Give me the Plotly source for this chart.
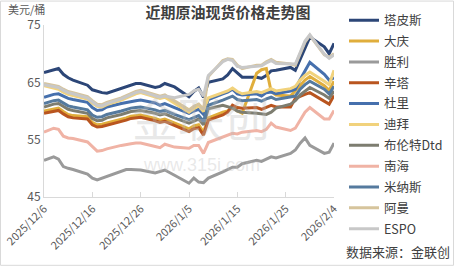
import plotly.graph_objects as go

dates = ["2025-12-06", "2025-12-08", "2025-12-09", "2025-12-10", "2025-12-11", "2025-12-12",
         "2025-12-15", "2025-12-16", "2025-12-17", "2025-12-18", "2025-12-19",
         "2025-12-22", "2025-12-23", "2025-12-24", "2025-12-25", "2025-12-26",
         "2025-12-29", "2025-12-30", "2025-12-31", "2026-01-02",
         "2026-01-05", "2026-01-06", "2026-01-07", "2026-01-08", "2026-01-09",
         "2026-01-12", "2026-01-13", "2026-01-14", "2026-01-15", "2026-01-16",
         "2026-01-19", "2026-01-20", "2026-01-21", "2026-01-22", "2026-01-23",
         "2026-01-26", "2026-01-27", "2026-01-28", "2026-01-29", "2026-01-30",
         "2026-02-02", "2026-02-03", "2026-02-04"]

tapis = [66.7, 67.2, 67.4, 66.4, 65.8, 65.4, 64.5, 63.7, 63.4, 63.2, 63.1, 64.0, 64.3, 64.6, 64.8, 64.8,
         64.1, 64.3, 64.8, 64.2, 62.5, 63.4, 64.0, 62.4, 65.0, 65.6, 66.3, 67.4, 66.6, 65.9,
         65.9, 65.7, 66.2, 67.0, 67.1, 67.6, 67.1, 69.0, 71.0, 72.9, 71.2, 70.0, 71.8]
daqing = [60.0, 60.4, 60.5, 59.9, 59.4, 59.2, 59.0, 58.0, 57.6, 57.7, 57.9, 58.5, 58.8, 59.1, 59.2, 59.3,
          58.7, 58.4, 58.6, 57.9, 56.9, 57.4, 57.6, 56.3, 58.8, 59.8, 60.0, 60.6, 60.0, 59.6,
          66.6, 67.2, 67.4, 63.4, 62.8, 62.6, 63.6, 64.6, 65.4, 66.0, 64.4, 63.6, 65.2]
shengli = [51.4, 52.0, 51.6, 50.3, 50.0, 49.8, 49.0, 48.3, 48.0, 48.3, 48.6, 49.5, 49.8, 49.8, 49.7, 49.7,
           49.2, 49.4, 49.7, 48.8, 47.4, 48.3, 47.6, 47.5, 48.3, 49.4, 49.8, 50.2, 50.2, 50.8,
           51.4, 51.2, 51.6, 52.0, 51.8, 52.6, 53.2, 54.4, 55.3, 54.0, 52.6, 52.8, 54.4]
cinta = [59.6, 60.0, 60.1, 59.5, 59.0, 58.8, 58.6, 57.6, 57.2, 57.3, 57.5, 58.1, 58.4, 58.7, 58.8, 58.9,
         58.3, 58.0, 58.2, 57.5, 56.4, 56.9, 57.1, 55.8, 58.4, 59.3, 59.8, 61.0, 60.6, 60.5,
         60.6, 60.3, 60.7, 61.0, 60.7, 60.7, 62.2, 62.6, 62.9, 63.2, 61.6, 61.2, 62.7]
duri = [62.4, 62.9, 63.0, 62.6, 62.2, 62.0, 61.5, 60.6, 60.1, 60.2, 60.7, 61.3, 61.5, 61.6, 61.8, 61.9,
        61.4, 61.0, 61.3, 60.6, 59.6, 60.0, 60.3, 59.4, 62.0, 63.0, 63.3, 63.8, 63.0, 62.8,
        63.0, 62.6, 63.2, 63.3, 63.0, 63.5, 63.8, 65.5, 67.0, 68.5, 66.4, 65.4, 65.8]
dubai = [64.4, 64.0, 63.8, 63.3, 62.9, 62.7, 62.1, 61.4, 60.8, 60.7, 61.1, 61.9, 62.3, 62.7, 63.0, 63.2,
         62.5, 62.2, 62.4, 61.4, 59.8, 60.4, 60.9, 59.9, 62.3, 63.2, 63.5, 64.0, 63.4, 63.0,
         63.4, 63.2, 63.6, 63.9, 63.5, 63.9, 64.3, 65.4, 66.2, 66.8, 65.2, 64.6, 67.1]
brent = [60.7, 61.2, 61.3, 60.8, 60.3, 60.1, 59.6, 58.7, 58.3, 58.4, 58.8, 59.4, 59.7, 59.9, 60.0, 60.1,
         59.6, 59.3, 59.5, 58.8, 57.9, 58.3, 58.6, 57.6, 60.4, 61.0, 60.8, 60.5, 60.0, 59.8,
         59.6, 59.5, 59.4, 59.8, 60.5, 61.2, 61.8, 62.8, 63.5, 64.1, 62.8, 62.2, 63.5]
nanhai = [56.3, 57.0, 56.8, 55.6, 55.3, 55.2, 54.6, 53.8, 53.0, 53.1, 53.4, 54.0, 54.2, 54.3, 54.4, 54.4,
          53.8, 53.6, 54.2, 53.7, 53.5, 54.0, 54.0, 52.6, 54.5, 55.5, 55.8, 56.1, 56.0, 56.3,
          56.6, 56.4, 56.8, 57.9, 57.2, 56.6, 57.0, 58.5, 59.8, 60.6, 58.6, 58.6, 60.1]
minas = [61.3, 61.8, 61.9, 61.4, 60.9, 60.7, 60.2, 59.3, 58.9, 59.0, 59.4, 60.0, 60.3, 60.5, 60.6, 60.7,
         60.2, 59.9, 60.1, 59.4, 58.5, 58.9, 59.2, 58.2, 61.0, 61.9, 62.3, 62.6, 62.0, 61.8,
         62.0, 61.7, 62.1, 62.4, 62.0, 62.4, 62.6, 63.8, 64.6, 65.2, 63.8, 63.0, 64.3]
oman = [64.8, 64.5, 64.3, 63.8, 63.4, 63.2, 62.5, 61.8, 61.2, 61.1, 61.5, 62.3, 62.7, 63.1, 63.4, 63.6,
        62.9, 62.6, 62.8, 61.8, 60.2, 60.8, 61.2, 60.3, 66.0, 68.8, 69.1, 69.0, 68.0, 67.4,
        68.0, 68.0, 68.6, 69.0, 68.5, 68.2, 68.0, 70.0, 72.0, 73.2, 69.8, 69.4, 70.0]
espo = [64.6, 64.3, 64.1, 63.6, 63.2, 63.0, 62.3, 61.6, 61.0, 60.9, 61.3, 62.1, 62.5, 62.9, 63.2, 63.4,
        62.7, 62.4, 62.6, 62.3, 62.9, 63.5, 63.8, 62.6, 66.2, 68.6, 69.0, 68.8, 67.8, 67.6,
        67.8, 67.9, 68.4, 68.8, 68.3, 68.3, 68.2, 70.2, 72.2, 73.3, 69.9, 69.2, 69.8]

names = ["塔皮斯", "大庆", "胜利", "辛塔", "杜里", "迪拜", "布伦特Dtd", "南海", "米纳斯", "阿曼", "ESPO"]
series = [tapis, daqing, shengli, cinta, duri, dubai, brent, nanhai, minas, oman, espo]
colors = ["#2c4677", "#e0ae3c", "#9a9a9a", "#b9551f", "#4670ad", "#f1d27c", "#7d7d70",
          "#f0b3a5", "#557a9e", "#d6c49c", "#c8c8c8"]

tick_dates = ["2025-12-06", "2025-12-16", "2025-12-26", "2026-01-05", "2026-01-15", "2026-01-25", "2026-02-04"]
tick_labels = ["2025/12/6", "2025/12/16", "2025/12/26", "2026/1/5", "2026/1/15", "2026/1/25", "2026/2/4"]

FONT = "Noto Sans CJK SC"

fig = go.Figure()
for name, vals, col in zip(names, series, colors):
    fig.add_trace(go.Scatter(x=dates, y=vals, name=name, mode="lines", legendgroup=name,
                             line=dict(color=col, width=3)))

W, H = 454, 266
L, R, T, B = 44, 120, 24.5, 69
pw, ph = W - L - R, H - T - B

fig.update_layout(
    width=W, height=H,
    margin=dict(l=L, r=R, t=T, b=B, autoexpand=False),
    paper_bgcolor="white", plot_bgcolor="white",
    font=dict(family=FONT, size=12, color="#595959"),
    title=dict(text="<b>近期原油现货价格走势图</b>", x=228 / W, xref="container", xanchor="center",
               y=1 - 13 / H, yref="container", yanchor="middle",
               font=dict(size=15, color="#404040", family=FONT)),
    showlegend=True,
    legend=dict(x=(344 - L) / pw, xanchor="left", y=1 + (T - 5) / ph, yanchor="top",
                font=dict(size=12.5, color="#404040", family=FONT),
                itemwidth=30, tracegroupgap=1.6, bgcolor="rgba(0,0,0,0)", maxheight=1),
    xaxis=dict(type="date", range=[dates[0], dates[-1]], tickvals=tick_dates, ticktext=tick_labels,
               tickangle=-45, tickfont=dict(size=11, color="#595959"),
               showgrid=False, showline=True, linecolor="#d9d9d9", linewidth=1,
               ticks="inside", ticklen=5, tickcolor="#d9d9d9", zeroline=False),
    yaxis=dict(range=[45, 75], tickvals=[45, 55, 65, 75], showgrid=False, showline=True,
               linecolor="#d9d9d9", linewidth=1, ticks="", zeroline=False,
               tickfont=dict(size=12, color="#595959")),
)

# watermark text
fig.add_annotation(text="金联创", xref="paper", yref="paper", x=(272 - L) / pw, y=(197 - 116) / ph,
                   showarrow=False, font=dict(size=46, color="rgba(190,190,190,0.35)", family=FONT))
fig.add_annotation(text="www.315i.com", xref="paper", yref="paper", x=(262 - L) / pw, y=(197 - 177) / ph,
                   showarrow=False, font=dict(size=18, color="rgba(190,190,190,0.35)", family="Liberation Sans"))

fig.add_annotation(text="美元/桶", xref="paper", yref="paper", x=-L / pw + 6 / pw, xanchor="left",
                   y=1 + (T - 8) / ph, yanchor="middle", showarrow=False,
                   font=dict(size=11, color="#595959", family=FONT))
fig.add_annotation(text="数据来源：金联创", xref="paper", yref="paper", x=(452 - L) / pw, xanchor="right",
                   y=(197 - 252) / ph, yanchor="middle", showarrow=False,
                   font=dict(size=13, color="#404040", family=FONT))

# outer frame
fig.add_shape(type="rect", xref="paper", yref="paper",
              x0=(0.5 - L) / pw, x1=(W - 0.5 - L) / pw, y0=(197 - (H - 0.5)) / ph, y1=(197 - 0.5) / ph,
              line=dict(color="#d9d9d9", width=1), fillcolor="rgba(0,0,0,0)", layer="below")

fig.write_html("out.html")
